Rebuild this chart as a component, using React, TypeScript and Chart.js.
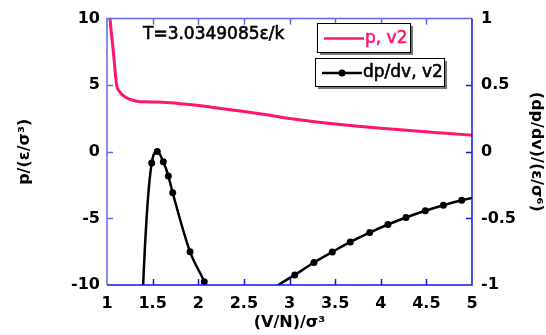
import { useEffect, useRef } from "react";
import { Chart, registerables } from "chart.js";

Chart.register(...registerables);

// Pressure curve p, v2 (left axis)
const pX = [1.0, 1.033, 1.069, 1.106, 1.135, 1.186, 1.252, 1.325, 1.4, 1.55, 1.7, 1.85, 2.0, 2.25, 2.5, 2.75, 3.0, 3.25, 3.5, 3.75, 4.0, 4.25, 4.5, 4.75, 5.0];
const pY = [13.0, 10.0, 7.54, 5.0, 4.55, 4.18, 3.93, 3.8, 3.75, 3.74, 3.68, 3.58, 3.48, 3.25, 3.02, 2.78, 2.5, 2.28, 2.09, 1.92, 1.77, 1.63, 1.5, 1.37, 1.25];

// dp/dv, v2 (right axis)
const dX = [1.3, 1.39, 1.49, 1.551, 1.617, 1.672, 1.72, 1.91, 2.066, 2.25, 2.457, 2.657, 2.857, 3.057, 3.268, 3.469, 3.666, 3.879, 4.079, 4.277, 4.488, 4.686, 4.887, 5.087];
const dY = [-3.2, -1.1, -0.084, 0.002, -0.075, -0.181, -0.308, -0.751, -0.975, -1.3, -1.36, -1.15, -1.011, -0.925, -0.831, -0.752, -0.677, -0.606, -0.546, -0.493, -0.443, -0.401, -0.364, -0.335];

const xTicks = { min: 1, max: 5, step: 0.5 };
const yLeftTicks = { min: -10, max: 10, step: 5 };
const yRightTicks = { min: -1, max: 1, step: 0.5 };

const seriesNames = ["p, v2", "dp/dv, v2"];
const annotation = "T=3.0349085ε/k";
const xTitle = "(V/N)/σ³";
const yLeftTitle = "p/(ε/σ³)";
const yRightTitle = "(dp/dv)/(ε/σ⁶)";

const PINK = "#ff1470";
const LIGHT_BLUE = "#6464f0";
const DARK_BLUE = "#1414e0";
const TICK_FONT = { family: "DejaVu Sans", size: 16, weight: "bold" as const };
const fmt = (v: any) => String(Number(v));

function heavyText(ctx: any, text: string, x: number, y: number, color: string) {
  ctx.fillStyle = color;
  ctx.strokeStyle = color;
  ctx.lineWidth = 0.6;
  ctx.fillText(text, x, y);
  ctx.strokeText(text, x, y);
}

const decor = {
  id: "decor",
  afterDraw(chart: any) {
    const { ctx, chartArea: a, scales } = chart;
    const x = scales.x, yl = scales.yL, yr = scales.yR;
    ctx.save();
    // axis frame
    ctx.lineWidth = 1.5;
    ctx.strokeStyle = LIGHT_BLUE;
    ctx.beginPath();
    ctx.moveTo(a.left, a.bottom);
    ctx.lineTo(a.left, a.top);
    ctx.lineTo(a.right, a.top);
    ctx.stroke();
    ctx.strokeStyle = DARK_BLUE;
    ctx.beginPath();
    ctx.moveTo(a.left, a.bottom);
    ctx.lineTo(a.right, a.bottom);
    ctx.lineTo(a.right, a.top);
    ctx.stroke();
    // inward ticks
    const tl = 6;
    ctx.lineWidth = 1.5;
    x.ticks.forEach((t: any) => {
      if (t.value <= xTicks.min || t.value >= xTicks.max) return;
      const px = Math.round(x.getPixelForValue(t.value)) + 0.5;
      ctx.strokeStyle = DARK_BLUE;
      ctx.beginPath();
      ctx.moveTo(px, a.bottom);
      ctx.lineTo(px, a.bottom - tl);
      ctx.stroke();
      ctx.strokeStyle = LIGHT_BLUE;
      ctx.beginPath();
      ctx.moveTo(px, a.top);
      ctx.lineTo(px, a.top + tl);
      ctx.stroke();
    });
    yl.ticks.forEach((t: any) => {
      if (t.value <= yLeftTicks.min || t.value >= yLeftTicks.max) return;
      const py = Math.round(yl.getPixelForValue(t.value)) + 0.5;
      ctx.strokeStyle = LIGHT_BLUE;
      ctx.beginPath();
      ctx.moveTo(a.left, py);
      ctx.lineTo(a.left + tl, py);
      ctx.stroke();
    });
    yr.ticks.forEach((t: any) => {
      if (t.value <= yRightTicks.min || t.value >= yRightTicks.max) return;
      const py = Math.round(yr.getPixelForValue(t.value)) + 0.5;
      ctx.strokeStyle = DARK_BLUE;
      ctx.beginPath();
      ctx.moveTo(a.right, py);
      ctx.lineTo(a.right - tl, py);
      ctx.stroke();
    });

    // annotation
    ctx.font = "17px 'DejaVu Sans'";
    ctx.textAlign = "left";
    ctx.textBaseline = "middle";
    heavyText(ctx, annotation, 143, 35, "#000");

    // legend boxes
    const boxes = [
      { x: 317, y: 23, w: 93, h: 29, color: PINK, text: seriesNames[0], dot: false },
      { x: 315, y: 58, w: 129, h: 28, color: "#000", text: seriesNames[1], dot: true },
    ];
    boxes.forEach((b) => {
      ctx.fillStyle = "#777";
      ctx.fillRect(b.x + 3, b.y + 3, b.w, b.h);
      ctx.fillStyle = "#fff";
      ctx.fillRect(b.x, b.y, b.w, b.h);
      ctx.strokeStyle = "#000";
      ctx.lineWidth = 1;
      ctx.strokeRect(b.x + 0.5, b.y + 0.5, b.w, b.h);
      const cy = b.y + b.h / 2 + 1;
      ctx.strokeStyle = b.color;
      ctx.lineWidth = 2.5;
      ctx.beginPath();
      ctx.moveTo(b.x + 7, cy);
      ctx.lineTo(b.x + 47, cy);
      ctx.stroke();
      if (b.dot) {
        ctx.fillStyle = b.color;
        ctx.beginPath();
        ctx.arc(b.x + 27, cy, 3.5, 0, Math.PI * 2);
        ctx.fill();
      }
      ctx.font = "17px 'DejaVu Sans'";
      ctx.textBaseline = "middle";
      heavyText(ctx, b.text, b.x + 48, cy, b.color);
    });
    ctx.restore();
  },
};

export default function App() {
  const ref = useRef<HTMLCanvasElement>(null);
  useEffect(() => {
    if (!ref.current) return;
    const chart = new Chart(ref.current, {
      type: "line",
      data: {
        datasets: [
          {
            label: seriesNames[0],
            data: pX.map((x, i) => ({ x, y: pY[i] })),
            borderColor: PINK,
            borderWidth: 3,
            pointRadius: 0,
            cubicInterpolationMode: "monotone",
            yAxisID: "yL",
          },
          {
            label: seriesNames[1],
            data: dX.map((x, i) => ({ x, y: dY[i] })),
            borderColor: "#000",
            backgroundColor: "#000",
            borderWidth: 2.5,
            pointRadius: (c: any) => (c.raw && c.raw.y < -1 ? 0 : 3.5),
            pointBorderWidth: 0,
            pointBackgroundColor: "#000",
            cubicInterpolationMode: "monotone",
            yAxisID: "yR",
          },
        ],
      },
      options: {
        responsive: false,
        devicePixelRatio: 1,
        animation: false,
        layout: { padding: { top: 17, left: 0, right: 0, bottom: 0 } },
        plugins: { legend: { display: false }, tooltip: { enabled: false } },
        scales: {
          x: {
            type: "linear",
            min: xTicks.min,
            max: xTicks.max,
            grid: { display: false, drawTicks: false },
            border: { display: false },
            ticks: { stepSize: xTicks.step, font: TICK_FONT, color: "#000", padding: 9, maxRotation: 0, autoSkip: false, callback: fmt },
            title: { display: true, text: xTitle, font: TICK_FONT, color: "#000", padding: { top: 0, bottom: 3 } },
            afterFit: (s: any) => { s.height = 50; },
          },
          yL: {
            type: "linear",
            position: "left",
            min: yLeftTicks.min,
            max: yLeftTicks.max,
            grid: { display: false, drawTicks: false },
            border: { display: false },
            ticks: { stepSize: yLeftTicks.step, font: TICK_FONT, color: "#000", padding: 7, callback: fmt },
            title: { display: true, text: yLeftTitle, font: TICK_FONT, color: "#000", padding: { top: 15, bottom: 0 } },
            afterFit: (s: any) => { s.width = 107; },
          },
          yR: {
            type: "linear",
            position: "right",
            min: yRightTicks.min,
            max: yRightTicks.max,
            grid: { display: false, drawTicks: false },
            border: { display: false },
            ticks: { stepSize: yRightTicks.step, font: TICK_FONT, color: "#000", padding: 9, callback: fmt },
            title: { display: true, text: yRightTitle, font: TICK_FONT, color: "#000", padding: { top: 0, bottom: 0 } },
            afterFit: (s: any) => { s.width = 74; },
          },
        },
      },
      plugins: [decor],
    });
    return () => chart.destroy();
  }, []);
  return (
    <div style={{ position: "absolute", left: 0, top: 0, width: 546, height: 335, background: "#fff" }}>
      <canvas ref={ref} width={546} height={335} />
    </div>
  );
}
